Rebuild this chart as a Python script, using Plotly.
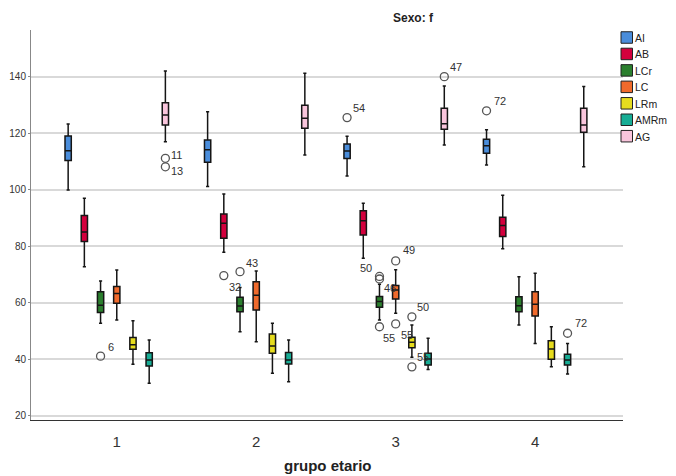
import plotly.graph_objects as go

# ---------------- data ----------------
GROUPS = [1, 2, 3, 4]
TICK_LABELS = ["1", "2", "3", "4"]
SERIES = ["AI", "AB", "LCr", "LC", "LRm", "AMRm", "AG"]

# per series: values for groups 1..4
AI_LOW = [99.9, 101.1, 104.8, 108.7]
AI_Q1 = [110.3, 109.7, 111.0, 112.9]
AI_MED = [113.8, 114.1, 113.7, 115.5]
AI_Q3 = [119.0, 117.6, 116.2, 117.8]
AI_HIGH = [123.2, 127.6, 118.9, 121.2]

AB_LOW = [72.7, 77.9, 75.7, 79.1]
AB_Q1 = [81.7, 82.8, 84.0, 83.4]
AB_MED = [85.0, 88.1, 89.0, 87.3]
AB_Q3 = [90.9, 91.4, 92.5, 90.2]
AB_HIGH = [97.0, 98.5, 95.2, 98.0]

LCR_LOW = [52.7, 49.7, 53.9, 52.1]
LCR_Q1 = [56.5, 56.8, 58.4, 56.8]
LCR_MED = [59.1, 58.8, 60.4, 58.9]
LCR_Q3 = [63.9, 61.9, 62.2, 62.1]
LCR_HIGH = [67.7, 65.4, 66.5, 69.2]

LC_LOW = [53.9, 46.2, 56.3, 45.6]
LC_Q1 = [59.8, 57.4, 61.3, 55.3]
LC_MED = [63.3, 62.6, 64.5, 59.5]
LC_Q3 = [65.7, 67.4, 66.1, 63.9]
LC_HIGH = [71.6, 71.2, 71.7, 70.4]

LRM_LOW = [38.2, 35.0, 40.7, 37.3]
LRM_Q1 = [43.5, 42.1, 44.1, 40.0]
LRM_MED = [45.1, 44.7, 46.0, 43.6]
LRM_Q3 = [47.7, 48.9, 47.8, 46.5]
LRM_HIGH = [53.6, 52.7, 52.1, 51.5]

AMRM_LOW = [31.5, 32.0, 36.4, 34.8]
AMRM_Q1 = [37.6, 38.3, 38.0, 38.0]
AMRM_MED = [39.7, 39.7, 40.1, 39.7]
AMRM_Q3 = [42.3, 42.4, 42.1, 41.8]
AMRM_HIGH = [46.8, 46.8, 47.4, 45.6]

AG_LOW = [117.0, 112.3, 115.8, 108.1]
AG_Q1 = [122.9, 121.7, 121.4, 120.3]
AG_MED = [126.4, 125.3, 123.3, 122.9]
AG_Q3 = [130.8, 129.9, 128.8, 128.8]
AG_HIGH = [142.0, 141.2, 136.7, 136.5]

# outliers
OUT_GROUP = [1, 1, 1, 2, 2, 3, 3, 3, 3, 3, 3, 3, 3, 3, 4, 4]
OUT_SERIES = ["LCr", "AG", "AG", "AB", "LCr", "AI", "LCr", "LCr", "LCr",
              "LC", "LC", "LRm", "LRm", "AG", "AI", "AMRm"]
OUT_VALUE = [41.1, 111.1, 108.1, 69.6, 71.0, 125.5, 69.3, 68.4, 51.5,
             74.8, 52.5, 55.0, 37.3, 140.0, 127.9, 49.2]
OUT_LABEL = ["6", "11", "13", "32", "43", "54", "50", "46", "55",
             "49", "55", "50", "55", "47", "72", "72"]

# ---------------- style ----------------
COLORS = ["#4a8ddb", "#d3003d", "#2b7f2e", "#f06a2c", "#e6dc1e", "#17ad95", "#f9c5dc"]
# label placement (pixels) for each outlier label
LBL_DX = [5, 4, 4, 3, 4, 4, -5, 3, 2, 5, 3, 3, 3, 4, 5, 5]
LBL_DY = [9, 3, -4, -11, 9, 10, 8, -9, -11, 11, -11, 10, 10, 10, 10, 10]
LBL_ANCHOR = ["left"] * 16
LBL_ANCHOR[6] = "right"

OFF = 8  # page body margin around the figure
W, H = 676 - 2 * OFF, 476 - OFF
ML, MR, MT, MB = 31 - OFF, 53 - OFF, 30 - OFF, 56
PW, PH = W - ML - MR, H - MT - MB
STEP = 0.1162  # spacing between series within a group (axis units)
FONT = "Liberation Sans, Arial, sans-serif"


def px_x(p):
    # page pixel -> paper fraction
    return (p - OFF - ML) / PW


def px_y(p):
    return (H - MB - (p - OFF)) / PH


stats = {
    "AI": (AI_LOW, AI_Q1, AI_MED, AI_Q3, AI_HIGH),
    "AB": (AB_LOW, AB_Q1, AB_MED, AB_Q3, AB_HIGH),
    "LCr": (LCR_LOW, LCR_Q1, LCR_MED, LCR_Q3, LCR_HIGH),
    "LC": (LC_LOW, LC_Q1, LC_MED, LC_Q3, LC_HIGH),
    "LRm": (LRM_LOW, LRM_Q1, LRM_MED, LRM_Q3, LRM_HIGH),
    "AMRm": (AMRM_LOW, AMRM_Q1, AMRM_MED, AMRM_Q3, AMRM_HIGH),
    "AG": (AG_LOW, AG_Q1, AG_MED, AG_Q3, AG_HIGH),
}


def offset(name):
    return (SERIES.index(name) - 3) * STEP


fig = go.Figure()
for name, col in zip(SERIES, COLORS):
    lo, q1, med, q3, hi = stats[name]
    fig.add_trace(go.Box(
        name=name,
        x=[g + offset(name) for g in GROUPS],
        lowerfence=lo, q1=q1, median=med, q3=q3, upperfence=hi,
        fillcolor=col,
        line=dict(color="#151515", width=1.5),
        width=0.045,
        whiskerwidth=0.5,
        boxpoints=False,
        showlegend=False,
        hoverinfo="skip",
    ))

ox = [g + offset(s) for g, s in zip(OUT_GROUP, OUT_SERIES)]
fig.add_trace(go.Scatter(
    x=ox, y=OUT_VALUE, mode="markers",
    marker=dict(symbol="circle-open", size=8, color="#555555", line=dict(width=1.3)),
    showlegend=False, hoverinfo="skip",
))

annotations = []
for x, y, t, dx, dy, anc in zip(ox, OUT_VALUE, OUT_LABEL, LBL_DX, LBL_DY, LBL_ANCHOR):
    annotations.append(dict(
        x=x, y=y, xref="x", yref="y", text=t, showarrow=False,
        xanchor=anc, yanchor="middle", xshift=dx, yshift=dy,
        font=dict(family=FONT, size=11, color="#333333"),
    ))

# title and axis title
annotations.append(dict(
    x=px_x(413), y=px_y(18), xref="paper", yref="paper", text="<b>Sexo: f</b>",
    showarrow=False, xanchor="center", yanchor="middle",
    font=dict(family=FONT, size=12, color="#222222"),
))
annotations.append(dict(
    x=px_x(328), y=px_y(465), xref="paper", yref="paper", text="<b>grupo etario</b>",
    showarrow=False, xanchor="center", yanchor="middle",
    font=dict(family=FONT, size=15, color="#222222"),
))

# manual legend
shapes = []
LEG_X0, LEG_Y0, LEG_DY, SQ = 621, 37.5, 16.45, 11.5
for i, (name, col) in enumerate(zip(SERIES, COLORS)):
    cy = LEG_Y0 + i * LEG_DY
    shapes.append(dict(
        type="rect", xref="paper", yref="paper",
        x0=px_x(LEG_X0), x1=px_x(LEG_X0 + SQ),
        y0=px_y(cy + SQ / 2), y1=px_y(cy - SQ / 2),
        fillcolor=col, line=dict(color="#222222", width=1),
    ))
    annotations.append(dict(
        x=px_x(633), y=px_y(cy + 0.5), xref="paper", yref="paper", text=name,
        showarrow=False, xanchor="left", yanchor="middle",
        font=dict(family=FONT, size=10.5, color="#222222"),
    ))

fig.update_layout(
    width=W, height=H,
    margin=dict(l=ML, r=MR, t=MT, b=MB, pad=0, autoexpand=False),
    paper_bgcolor="white", plot_bgcolor="white",
    boxmode="overlay",
    showlegend=False,
    annotations=annotations,
    shapes=shapes,
    font=dict(family=FONT, color="#333333"),
)
fig.update_xaxes(
    range=[0.385, 4.63], tickvals=GROUPS, ticktext=TICK_LABELS,
    showgrid=False, zeroline=False, automargin=False,
    showline=True, linecolor="#333333", linewidth=1,
    ticks="outside", ticklen=8, tickcolor="rgba(0,0,0,0)",
    tickfont=dict(size=15, color="#333333"),
)
fig.update_yaxes(
    range=[18.5, 156.5], tickvals=[20, 40, 60, 80, 100, 120, 140],
    showgrid=True, gridcolor="#d9d9d9", gridwidth=2, zeroline=False, automargin=False,
    showline=True, linecolor="#888888", linewidth=1,
    ticks="outside", ticklen=2, tickcolor="#888888",
    tickfont=dict(size=10, color="#333333"),
)

fig.write_html("out.html")
